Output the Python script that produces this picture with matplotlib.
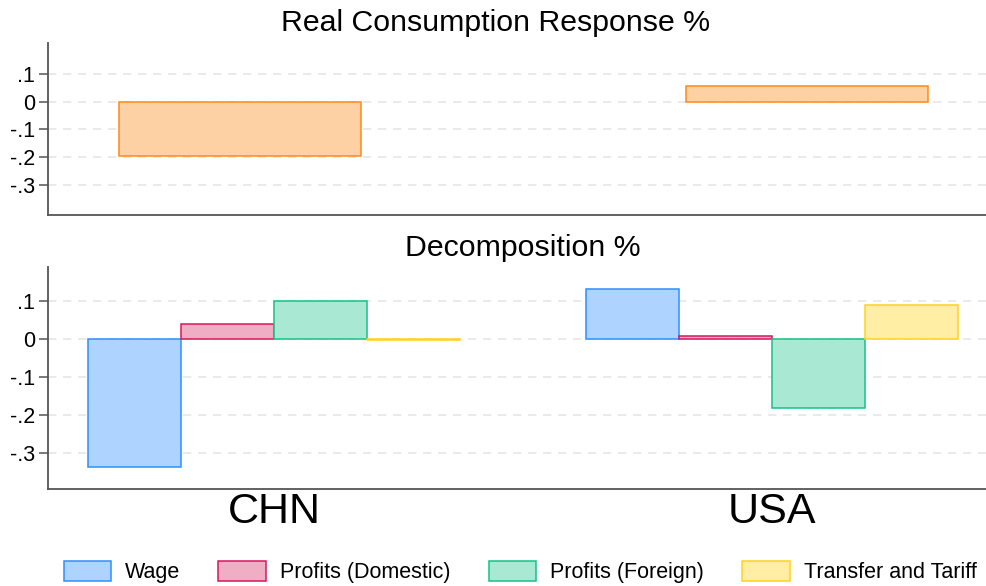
import matplotlib
matplotlib.use("Agg")
import matplotlib.pyplot as plt
import numpy as np

plt.rcParams['font.family'] = ['Liberation Sans', 'DejaVu Sans']

countries = ["CHN", "USA"]
consumption = [-0.196, 0.059]
series = ["Wage", "Profits (Domestic)", "Profits (Foreign)", "Transfer and Tariff"]
wage = [-0.336, 0.132]
profits_dom = [0.040, 0.007]
profits_for = [0.100, -0.183]
transfer = [-0.004, 0.089]
yticks = [-0.3, -0.2, -0.1, 0.0, 0.1]
yticklabels = ["-.3", "-.2", "-.1", "0", ".1"]

fills = ["#AFD3FF", "#F0AEC5", "#A9E8D3", "#FFEEA3"]
edges = ["#2E8EFF", "#D6175E", "#14C285", "#FFD21C"]
orange_fill = "#FDD1A4"
orange_edge = "#FF8A1A"

W, H = 987, 586
fig = plt.figure(figsize=(W / 100, H / 100), dpi=100)

def style(ax, ylim):
    ax.set_ylim(*ylim)
    ax.set_yticks(yticks)
    ax.set_yticklabels(yticklabels, fontsize=15.5)
    for s in ["top", "right"]:
        ax.spines[s].set_visible(False)
    for s in ["left", "bottom"]:
        ax.spines[s].set_color("#555555")
        ax.spines[s].set_linewidth(1.3)
    ax.tick_params(axis="y", length=6.5, width=1.1, color="#555555", pad=3)
    ax.tick_params(axis="x", length=0, labelbottom=False)
    ax.grid(axis="y", color="#e6e6e6", linestyle=(0, (5, 4)), linewidth=1.2)
    ax.set_axisbelow(True)

# Top panel
ax1 = fig.add_axes([48 / W, 1 - 215 / H, 1 - 48 / W, (215 - 43) / H])
x = np.arange(len(countries))
ax1.bar(x, consumption, width=0.4268, color=orange_fill, edgecolor=orange_edge, linewidth=1.1)
ax1.set_xlim(-0.339, 1.317)
style(ax1, (-0.41, 0.213))
fig.text(496 / W, 1 - 23 / H, "Real Consumption Response %", ha="center", va="center", fontsize=21.8)

# Bottom panel
ax2 = fig.add_axes([48 / W, 1 - 489 / H, 1 - 48 / W, (489 - 266.7) / H])
w = 0.1867
data = [wage, profits_dom, profits_for, transfer]
handles = []
for i, (vals, fc, ec, name) in enumerate(zip(data, fills, edges, series)):
    b = ax2.bar(x + (i - 1.5) * w, vals, width=w, color=fc, edgecolor=ec, linewidth=1.1, label=name)
    handles.append(b)
ax2.set_xlim(-0.454, 1.432)
style(ax2, (-0.395, 0.19))
fig.text(523 / W, 1 - 248 / H, "Decomposition %", ha="center", va="center", fontsize=21.8)

for xi, c in zip(x, countries):
    ax2.text(xi, -0.455, c, ha="center", va="center", fontsize=31, transform=ax2.transData, clip_on=False)

fig.legend(handles=handles, labels=series, loc="center", bbox_to_anchor=(520 / W, 1 - 572 / H),
           ncol=4, frameon=False, fontsize=15.5, handlelength=2.2, handleheight=1.05,
           handletextpad=0.65, columnspacing=1.78, borderaxespad=0)

fig.savefig("out.png", dpi=100)
